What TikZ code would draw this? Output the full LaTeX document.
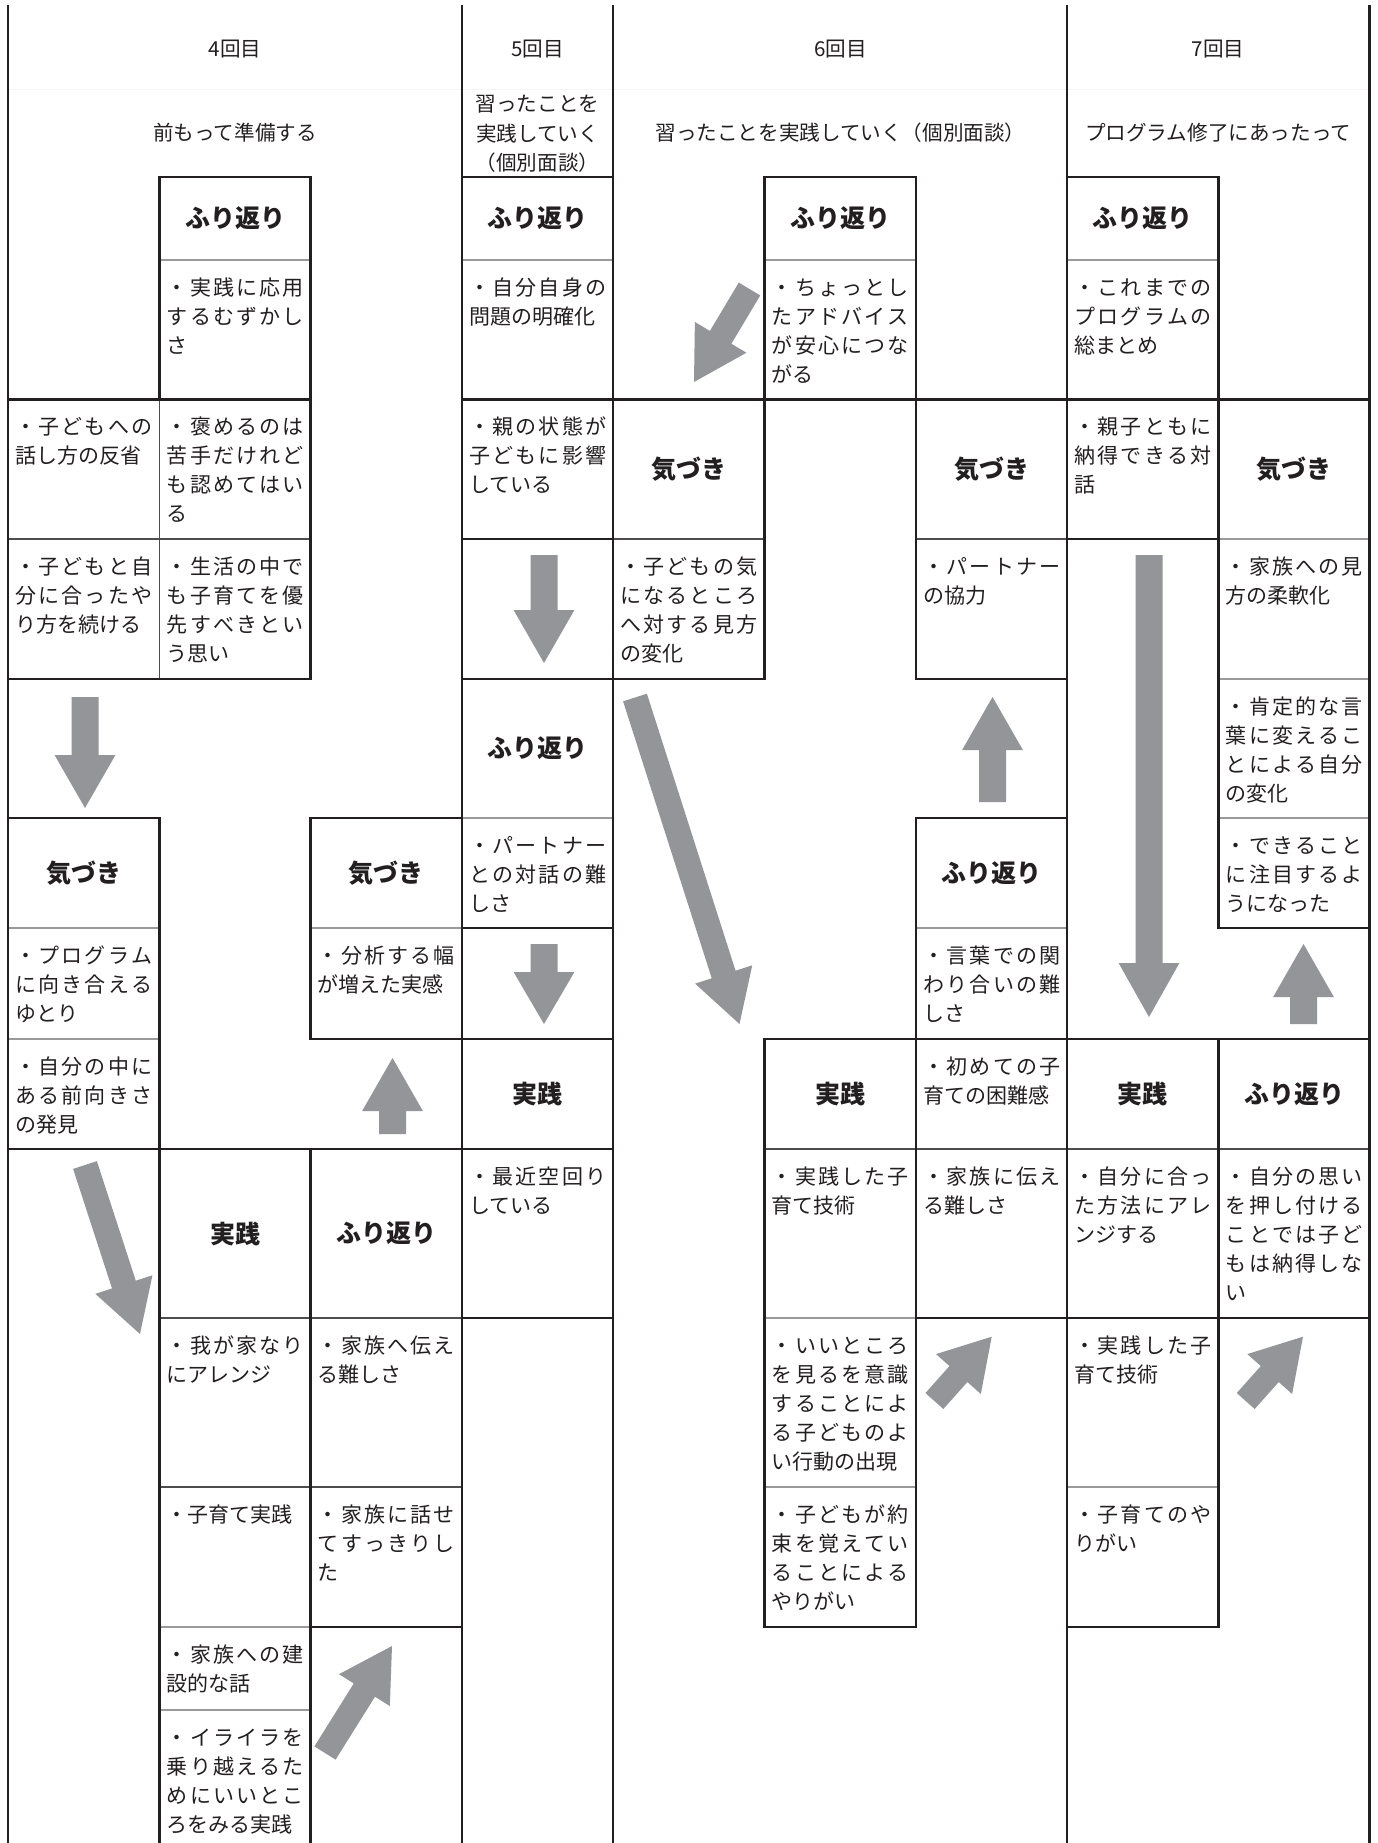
\documentclass[tikz,border=0pt]{standalone}
\usepackage{fontspec}
\setmainfont{Noto Sans CJK JP}
\usetikzlibrary{calc}
\definecolor{ink}{HTML}{231F20}
\definecolor{arrowgrey}{HTML}{939598}
\definecolor{sepgrey}{HTML}{9A9A9A}
\definecolor{thingrey}{HTML}{4D4D4D}
\def\endspread{}
\def\spreadchars#1#2\endspread{#1\ifx\endspread#2\endspread\else\hfill\spreadchars#2\endspread\fi}
\newcommand\jl[1]{\makebox[\linewidth][l]{\spreadchars#1\endspread}\\}
\newcommand\cell[1]{\parbox[t]{68.5pt}{#1}}
\newcommand\garrow[5]{%
  \path ($(#2)!#5!(#1)$) coordinate (gab);
  \fill[arrowgrey] ($(#1)!#3!90:(#2)$) -- ($(gab)!#3!90:(#2)$) -- ($(gab)!#4!90:(#2)$) -- (#2)
    -- ($(gab)!#4!-90:(#2)$) -- ($(gab)!#3!-90:(#2)$) -- ($(#1)!#3!-90:(#2)$) -- cycle;}
\begin{document}
\begin{tikzpicture}[x=0.5pt,y=-0.5pt,
  thk/.style={draw=ink, line width=1.2pt, line cap=rect, line join=miter},
  thn/.style={draw=thingrey, line width=0.6pt},
  gry/.style={draw=sepgrey, line width=0.6pt},
  faint/.style={draw=black!4, line width=0.5pt},
  ttl/.style={inner sep=0pt, text=ink, font=\fontsize{12.5pt}{15pt}\selectfont\bfseries},
  txt/.style={anchor=base west, inner sep=0pt, text=ink, font=\fontsize{10.5pt}{14.5pt}\selectfont},
  hdr/.style={inner sep=0pt, text=ink, align=center, font=\fontsize{10.3pt}{14.75pt}\selectfont}]
\useasboundingbox (0,0) rectangle (1377,1843);
\fill[white] (0,0) rectangle (1377,1843);
% grid coordinates
\coordinate (c0) at (8,0);     \coordinate (c1) at (159.5,0); \coordinate (c2) at (310.5,0);
\coordinate (c3) at (462,0);   \coordinate (c4) at (613,0);   \coordinate (c5) at (764.5,0);
\coordinate (c6) at (916,0);   \coordinate (c7) at (1067,0);  \coordinate (c8) at (1218.5,0);
\coordinate (c9) at (1369.5,0);
\coordinate (r0) at (0,6);     \coordinate (rh) at (0,89);
\coordinate (r1) at (0,177);   \coordinate (r2) at (0,260);   \coordinate (r3) at (0,399.5);
\coordinate (r4) at (0,539);   \coordinate (r5) at (0,679);   \coordinate (r6) at (0,818);
\coordinate (r7) at (0,928);   \coordinate (r8) at (0,1039);  \coordinate (r9) at (0,1149);
\coordinate (r10) at (0,1318); \coordinate (r11) at (0,1487); \coordinate (r12) at (0,1627);
\coordinate (r13) at (0,1710); \coordinate (r14) at (0,1843);

% faint header rule
\draw[faint] (c0|-rh) -- (c9|-rh);

% ---------- thin separators ----------
\draw[gry] (c1|-r2) -- (c2|-r2);
\draw[thn] (c1|-r3) -- (c1|-r5);
\draw[thn] (c0|-r4) -- (c2|-r4);
\draw[gry] (c0|-r7) -- (c1|-r7);
\draw[gry] (c0|-r8) -- (c1|-r8);
\draw[gry] (c2|-r7) -- (c3|-r7);
\draw[thn] (c1|-r10) -- (c3|-r10);
\draw[thn] (c1|-r11) -- (c3|-r11);
\draw[gry] (c1|-r12) -- (c2|-r12);
\draw[gry] (c1|-r13) -- (c2|-r13);
\draw[gry] (c3|-r2) -- (c4|-r2);
\draw[gry] (c3|-r6) -- (c4|-r6);
\draw[gry] (c5|-r2) -- (c6|-r2);
\draw[thn] (c4|-r4) -- (c5|-r4);
\draw[thn] (c6|-r4) -- (c7|-r4);
\draw[gry] (c6|-r7) -- (c7|-r7);
\draw[thn] (c5|-r9) -- (c9|-r9);
\draw[gry] (c5|-r10) -- (c6|-r10);
\draw[gry] (c5|-r11) -- (c6|-r11);
\draw[gry] (c7|-r2) -- (c8|-r2);
\draw[gry] (c8|-r4) -- (c9|-r4);
\draw[gry] (c8|-r5) -- (c9|-r5);
\draw[gry] (c8|-r6) -- (c9|-r6);
\draw[gry] (c7|-r11) -- (c8|-r11);

% ---------- thick borders ----------
\draw[thk] (c0|-r0) -- (c0|-r14);
\draw[thk] (c3|-r0) -- (c3|-r14);
\draw[thk] (c4|-r0) -- (c4|-r14);
\draw[thk] (c7|-r0) -- (c7|-r14);
\draw[thk] (c9|-r0) -- (c9|-r14);
% session 4
\draw[thk] (c1|-r3) -- (c1|-r1) -- (c2|-r1) -- (c2|-r5);
\draw[thk] (c0|-r3) -- (c2|-r3);
\draw[thk] (c0|-r5) -- (c2|-r5);
\draw[thk] (c0|-r6) -- (c1|-r6) -- (c1|-r9);
\draw[thk] (c3|-r6) -- (c2|-r6) -- (c2|-r8) -- (c3|-r8);
\draw[thk] (c0|-r9) -- (c4|-r9);
\draw[thk] (c1|-r9) -- (c1|-r14);
\draw[thk] (c2|-r9) -- (c2|-r14);
\draw[thk] (c2|-r12) -- (c3|-r12);
% session 5
\draw[thk] (c3|-r1) -- (c4|-r1);
\draw[thk] (c3|-r3) -- (c9|-r3);
\draw[thk] (c3|-r4) -- (c4|-r4);
\draw[thk] (c3|-r5) -- (c5|-r5);
\draw[thk] (c3|-r7) -- (c4|-r7);
\draw[thk] (c3|-r8) -- (c4|-r8);
\draw[thk] (c3|-r10) -- (c4|-r10);
% session 6
\draw[thk] (c5|-r5) -- (c5|-r1) -- (c6|-r1) -- (c6|-r5) -- (c7|-r5);
\draw[thk] (c7|-r6) -- (c6|-r6) -- (c6|-r12) -- (c5|-r12) -- (c5|-r8);
\draw[thk] (c5|-r8) -- (c9|-r8);
\draw[thk] (c6|-r10) -- (c9|-r10);
% session 7
\draw[thk] (c7|-r1) -- (c8|-r1) -- (c8|-r7) -- (c9|-r7);
\draw[thk] (c7|-r4) -- (c8|-r4);
\draw[thk] (c8|-r8) -- (c8|-r12) -- (c7|-r12);

% ---------- headers ----------
\node[hdr] (h4) at (235,49) {4回目};
\node[hdr] (s4) at (235,133) {前もって準備する};
\node[hdr] (h5) at (537.5,49) {5回目};
\node[hdr] (s5) at (537.5,134) {習ったことを\\実践していく\\（個別面談）};
\node[hdr] (h6) at (840.5,49) {6回目};
\node[hdr] (s6) at (840.5,133) {習ったことを実践していく（個別面談）};
\node[hdr] (h7) at (1218.25,49) {7回目};
\node[hdr] (s7) at (1218.25,133) {プログラム修了にあったって};

% ---------- session 4 ----------
\node[ttl] (f4b) at ($(c1|-r1)!0.5!(c2|-r2)$) {ふり返り};
\node[txt] (n4b1) at ($(c1|-r2)+(7,35)$) {\cell{\jl{・実践に応用}\jl{するむずかし}さ}};
\node[txt] (n4a2) at ($(c0|-r3)+(7,35)$) {\cell{\jl{・子どもへの}話し方の反省}};
\node[txt] (n4b2) at ($(c1|-r3)+(7,35)$) {\cell{\jl{・褒めるのは}\jl{苦手だけれど}\jl{も認めてはい}る}};
\node[txt] (n4a3) at ($(c0|-r4)+(7,35)$) {\cell{\jl{・子どもと自}\jl{分に合ったや}り方を続ける}};
\node[txt] (n4b3) at ($(c1|-r4)+(7,35)$) {\cell{\jl{・生活の中で}\jl{も子育てを優}\jl{先すべきとい}う思い}};
\node[ttl] (k4a) at ($(c0|-r6)!0.5!(c1|-r7)$) {気づき};
\node[txt] (n4a4) at ($(c0|-r7)+(7,35)$) {\cell{\jl{・プログラム}\jl{に向き合える}ゆとり}};
\node[txt] (n4a5) at ($(c0|-r8)+(7,35)$) {\cell{\jl{・自分の中に}\jl{ある前向きさ}の発見}};
\node[ttl] (k4c) at ($(c2|-r6)!0.5!(c3|-r7)$) {気づき};
\node[txt] (n4c1) at ($(c2|-r7)+(7,35)$) {\cell{\jl{・分析する幅}が増えた実感}};
\node[ttl] (p4b) at ($(c1|-r9)!0.5!(c2|-r10)$) {実践};
\node[ttl] (f4c) at ($(c2|-r9)!0.5!(c3|-r10)$) {ふり返り};
\node[txt] (n4b4) at ($(c1|-r10)+(7,35)$) {\cell{\jl{・我が家なり}にアレンジ}};
\node[txt] (n4c2) at ($(c2|-r10)+(7,35)$) {\cell{\jl{・家族へ伝え}る難しさ}};
\node[txt] (n4b5) at ($(c1|-r11)+(7,35)$) {\cell{・子育て実践}};
\node[txt] (n4c3) at ($(c2|-r11)+(7,35)$) {\cell{\jl{・家族に話せ}\jl{てすっきりし}た}};
\node[txt] (n4b6) at ($(c1|-r12)+(7,35)$) {\cell{\jl{・家族への建}設的な話}};
\node[txt] (n4b7) at ($(c1|-r13)+(7,35)$) {\cell{\jl{・イライラを}\jl{乗り越えるた}\jl{めにいいとこ}ろをみる実践}};

% ---------- session 5 ----------
\node[ttl] (f5a) at ($(c3|-r1)!0.5!(c4|-r2)$) {ふり返り};
\node[txt] (n5a) at ($(c3|-r2)+(7,35)$) {\cell{\jl{・自分自身の}問題の明確化}};
\node[txt] (n5b) at ($(c3|-r3)+(7,35)$) {\cell{\jl{・親の状態が}\jl{子どもに影響}している}};
\node[ttl] (f5b) at ($(c3|-r5)!0.5!(c4|-r6)$) {ふり返り};
\node[txt] (n5c) at ($(c3|-r6)+(7,35)$) {\cell{\jl{・パートナー}\jl{との対話の難}しさ}};
\node[ttl] (p5) at ($(c3|-r8)!0.5!(c4|-r9)$) {実践};
\node[txt] (n5d) at ($(c3|-r9)+(7,35)$) {\cell{\jl{・最近空回り}している}};

% ---------- session 6 ----------
\node[ttl] (f6a) at ($(c5|-r1)!0.5!(c6|-r2)$) {ふり返り};
\node[txt] (n6a) at ($(c5|-r2)+(7,35)$) {\cell{\jl{・ちょっとし}\jl{たアドバイス}\jl{が安心につな}がる}};
\node[ttl] (k6e) at ($(c4|-r3)!0.5!(c5|-r4)$) {気づき};
\node[txt] (n6e) at ($(c4|-r4)+(7,35)$) {\cell{\jl{・子どもの気}\jl{になるところ}\jl{へ対する見方}の変化}};
\node[ttl] (k6g) at ($(c6|-r3)!0.5!(c7|-r4)$) {気づき};
\node[txt] (n6g) at ($(c6|-r4)+(7,35)$) {\cell{\jl{・パートナー}の協力}};
\node[ttl] (f6g) at ($(c6|-r6)!0.5!(c7|-r7)$) {ふり返り};
\node[txt] (n6g2) at ($(c6|-r7)+(7,35)$) {\cell{\jl{・言葉での関}\jl{わり合いの難}しさ}};
\node[txt] (n6g3) at ($(c6|-r8)+(7,35)$) {\cell{\jl{・初めての子}育ての困難感}};
\node[ttl] (p6f) at ($(c5|-r8)!0.5!(c6|-r9)$) {実践};
\node[txt] (n6f1) at ($(c5|-r9)+(7,35)$) {\cell{\jl{・実践した子}育て技術}};
\node[txt] (n6g4) at ($(c6|-r9)+(7,35)$) {\cell{\jl{・家族に伝え}る難しさ}};
\node[txt] (n6f2) at ($(c5|-r10)+(7,35)$) {\cell{\jl{・いいところ}\jl{を見るを意識}\jl{することによ}\jl{る子どものよ}い行動の出現}};
\node[txt] (n6f3) at ($(c5|-r11)+(7,35)$) {\cell{\jl{・子どもが約}\jl{束を覚えてい}\jl{ることによる}やりがい}};

% ---------- session 7 ----------
\node[ttl] (f7h) at ($(c7|-r1)!0.5!(c8|-r2)$) {ふり返り};
\node[txt] (n7h1) at ($(c7|-r2)+(7,35)$) {\cell{\jl{・これまでの}\jl{プログラムの}総まとめ}};
\node[txt] (n7h2) at ($(c7|-r3)+(7,35)$) {\cell{\jl{・親子ともに}\jl{納得できる対}話}};
\node[ttl] (k7i) at ($(c8|-r3)!0.5!(c9|-r4)$) {気づき};
\node[txt] (n7i1) at ($(c8|-r4)+(7,35)$) {\cell{\jl{・家族への見}方の柔軟化}};
\node[txt] (n7i2) at ($(c8|-r5)+(7,35)$) {\cell{\jl{・肯定的な言}\jl{葉に変えるこ}\jl{とによる自分}の変化}};
\node[txt] (n7i3) at ($(c8|-r6)+(7,35)$) {\cell{\jl{・できること}\jl{に注目するよ}うになった}};
\node[ttl] (p7h) at ($(c7|-r8)!0.5!(c8|-r9)$) {実践};
\node[ttl] (f7i) at ($(c8|-r8)!0.5!(c9|-r9)$) {ふり返り};
\node[txt] (n7h3) at ($(c7|-r9)+(7,35)$) {\cell{\jl{・自分に合っ}\jl{た方法にアレ}ンジする}};
\node[txt] (n7i4) at ($(c8|-r9)+(7,35)$) {\cell{\jl{・自分の思い}\jl{を押し付ける}\jl{ことでは子ど}\jl{もは納得しな}い}};
\node[txt] (n7h4) at ($(c7|-r10)+(7,35)$) {\cell{\jl{・実践した子}育て技術}};
\node[txt] (n7h5) at ($(c7|-r11)+(7,35)$) {\cell{\jl{・子育てのや}りがい}};

% ---------- block arrows ----------
\coordinate (a1t) at (85,697);      \coordinate (a1h) at (85,808);
\coordinate (a2t) at (544,555);     \coordinate (a2h) at (544,663);
\coordinate (a3t) at (544,944);     \coordinate (a3h) at (544,1024);
\coordinate (a4t) at (392.5,1134);  \coordinate (a4h) at (392.5,1058);
\coordinate (a5t) at (992.5,802);   \coordinate (a5h) at (992.5,697);
\coordinate (a6t) at (1303.5,1024); \coordinate (a6h) at (1303.5,944);
\coordinate (a7t) at (1149,555);    \coordinate (a7h) at (1149,1017);
\coordinate (d1t) at (749.5,289);   \coordinate (d1h) at (694,382);
\coordinate (d2t) at (635,697.5);   \coordinate (d2h) at (739.5,1024);
\coordinate (d3t) at (85,1165);     \coordinate (d3h) at (140,1334);
\coordinate (d4t) at (325,1753);    \coordinate (d4h) at (392,1646);
\coordinate (d5t) at (934.4,1401);  \coordinate (d5h) at (991.7,1336.7);
\coordinate (d6t) at (1245.7,1401); \coordinate (d6h) at (1303,1336.7);
\garrow{a1t}{a1h}{6.75pt}{15.2pt}{26.5pt}
\garrow{a2t}{a2h}{6.75pt}{15.2pt}{26.5pt}
\garrow{a3t}{a3h}{6.75pt}{15.2pt}{26pt}
\garrow{a4t}{a4h}{6.75pt}{15.2pt}{26.5pt}
\garrow{a5t}{a5h}{6.75pt}{15.2pt}{26.5pt}
\garrow{a6t}{a6h}{6.75pt}{15.2pt}{26.5pt}
\garrow{a7t}{a7h}{6.75pt}{15.2pt}{27pt}
\garrow{d1t}{d1h}{6.25pt}{15pt}{26pt}
\garrow{d2t}{d2h}{6.25pt}{15pt}{26pt}
\garrow{d3t}{d3h}{6.25pt}{15pt}{26pt}
\garrow{d4t}{d4h}{6.25pt}{15pt}{26pt}
\garrow{d5t}{d5h}{6pt}{15pt}{25pt}
\garrow{d6t}{d6h}{6pt}{15pt}{25pt}
\end{tikzpicture}
\end{document}
